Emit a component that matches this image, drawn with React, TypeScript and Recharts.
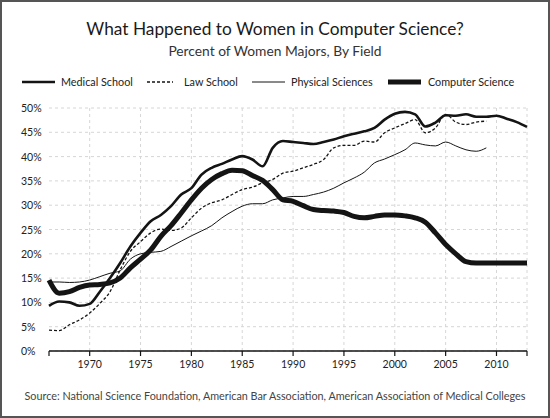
import { LineChart, Line, XAxis, YAxis, CartesianGrid, ReferenceLine } from 'recharts';

const years = [
  1966, 1967, 1968, 1969, 1970, 1971, 1972, 1973, 1974, 1975, 1976, 1977, 1978, 1979,
  1980, 1981, 1982, 1983, 1984, 1985, 1986, 1987, 1988, 1989, 1990, 1991, 1992, 1993,
  1994, 1995, 1996, 1997, 1998, 1999, 2000, 2001, 2002, 2003, 2004, 2005, 2006, 2007,
  2008, 2009, 2010, 2011, 2012, 2013,
];

const medical = [
  9.3, 10.2, 10.0, 9.3, 9.7, 12.2, 15.0, 18.1, 21.5, 24.3, 26.7, 28.0, 29.8, 32.2,
  33.5, 36.3, 37.7, 38.5, 39.4, 40.1, 39.4, 38.0, 41.8, 43.2, 43.0, 42.8, 42.6, 43.0,
  43.5, 44.2, 44.7, 45.2, 45.9, 47.6, 48.8, 49.2, 48.7, 46.2, 47.0, 48.5, 48.4, 48.7,
  48.2, 48.2, 48.4, 47.8, 47.1, 46.1,
];

const law = [
  4.3, 4.2, 5.4, 6.4, 7.8, 9.8, 12.2, 16.7, 20.5, 22.5, 24.3, 25.1, 24.8, 25.3,
  27.4, 29.4, 30.5, 31.1, 32.2, 33.2, 33.7, 34.6, 35.3, 36.6, 37.0, 37.7, 38.4, 39.4,
  41.8, 42.3, 42.3, 43.2, 43.0, 44.9, 45.9, 46.8, 47.6, 44.9, 45.9, 48.7, 47.1, 46.6,
  47.1, 47.3, null, null, null, null,
];

const physical = [
  14.2, 14.2, 14.1, 14.2, 14.6, 15.3, 16.0, 16.5, 18.9, 20.0, 20.3, 20.5, 21.5, 22.6,
  23.7, 24.7, 25.8, 27.4, 28.7, 29.8, 30.3, 30.3, 31.1, 31.5, 31.8, 31.8, 32.2, 32.7,
  33.5, 34.6, 35.6, 36.8, 38.7, 39.5, 40.4, 41.4, 42.8, 42.4, 42.2, 43.0, 42.2, 41.4,
  41.1, 41.8, null, null, null, null,
];

const computer = [
  14.6, 11.9, 12.2, 13.1, 13.6, 13.7, 14.0, 15.0, 17.1, 18.9, 20.8, 23.6, 25.8, 28.4,
  31.1, 33.5, 35.3, 36.5, 37.2, 37.1, 36.1, 35.1, 33.2, 31.1, 30.8, 29.9, 29.1, 28.9,
  28.8, 28.5, 27.7, 27.4, 27.7, 28.0, 28.0, 27.8, 27.4, 26.5, 24.3, 21.9, 20.0, 18.4,
  18.1, 18.1, 18.1, 18.1, 18.1, 18.1,
];

const xTicks = [1966, 1970, 1975, 1980, 1985, 1990, 1995, 2000, 2005, 2010, 2013];
const gridYears = [1970, 1975, 1980, 1985, 1990, 1995, 2000, 2005, 2010, 2013];
const yTicks = [0, 5, 10, 15, 20, 25, 30, 35, 40, 45, 50];

const data = years.map((year, i) => ({
  year,
  medical: medical[i],
  law: law[i],
  physical: physical[i],
  computer: computer[i],
}));

const FONT = 'Lato, "Open Sans", sans-serif';
const INK = '#141414';

// legend swatch left / length / text left, matched to the reference
const legendItems = [
  { label: 'Medical School', width: 2.6, dash: undefined, left: 22, len: 33, textLeft: 61 },
  { label: 'Law School', width: 1.3, dash: '3 2', left: 147, len: 26, textLeft: 184 },
  { label: 'Physical Sciences', width: 1, dash: undefined, left: 252, len: 33, textLeft: 291 },
  { label: 'Computer Science', width: 5, dash: undefined, left: 388, len: 33, textLeft: 428 },
];

const YTick = (props: any) => {
  const { y, payload } = props;
  return (
    <text x={21} y={y} dy={4} textAnchor="start" fontSize={10.5} fill="#222" fontFamily={FONT}>
      {payload.value}%
    </text>
  );
};

const XTick = (props: any) => {
  const { x, y, payload } = props;
  if (payload.value % 5 !== 0) return null;
  return (
    <text x={x} y={y} dy={10} textAnchor="middle" fontSize={10.5} fill="#222" fontFamily={FONT}>
      {payload.value}
    </text>
  );
};

const App = () => (
  <div
    style={{
      position: 'absolute',
      left: 0,
      top: 0,
      width: 550,
      height: 418,
      background: '#fff',
      fontFamily: FONT,
    }}
  >
    <div
      style={{
        position: 'absolute',
        top: 18,
        left: 0,
        width: 550,
        textAlign: 'center',
        fontSize: 17.3,
        color: '#1a1a1a',
      }}
    >
      What Happened to Women in Computer Science?
    </div>
    <div
      style={{
        position: 'absolute',
        top: 42,
        left: 0,
        width: 550,
        textAlign: 'center',
        fontSize: 13.8,
        color: '#333',
      }}
    >
      Percent of Women Majors, By Field
    </div>
    {legendItems.map((item) => (
      <div key={item.label}>
        <svg
          width={item.len}
          height={8}
          style={{ position: 'absolute', left: item.left, top: 78 }}
        >
          <line
            x1={0}
            x2={item.len}
            y1={4}
            y2={4}
            stroke={INK}
            strokeWidth={item.width}
            strokeDasharray={item.dash}
          />
        </svg>
        <span
          style={{
            position: 'absolute',
            left: item.textLeft,
            top: 75,
            fontSize: 10.8,
            color: '#222',
            whiteSpace: 'nowrap',
          }}
        >
          {item.label}
        </span>
      </div>
    ))}
    <LineChart
      width={550}
      height={418}
      data={data}
      margin={{ top: 108, right: 23, bottom: 37, left: 22 }}
    >
      <CartesianGrid vertical={false} stroke="#d6d6d6" strokeDasharray="3 3" />
      {gridYears.map((yr) => (
        <ReferenceLine key={yr} x={yr} stroke="#d6d6d6" strokeDasharray="3 3" />
      ))}
      <XAxis
        dataKey="year"
        type="number"
        domain={[1966, 2013]}
        ticks={xTicks}
        interval={0}
        tick={<XTick />}
        tickSize={5}
        stroke={INK}
        axisLine={{ stroke: INK, strokeWidth: 1.5 }}
        tickLine={{ stroke: INK, strokeWidth: 1.2 }}
        height={30}
      />
      <YAxis
        type="number"
        domain={[0, 50]}
        ticks={yTicks}
        interval={0}
        tick={<YTick />}
        axisLine={false}
        tickLine={false}
        width={27}
      />
      <Line
        type="monotone"
        dataKey="physical"
        stroke={INK}
        strokeWidth={1}
        dot={false}
        isAnimationActive={false}
      />
      <Line
        type="monotone"
        dataKey="law"
        stroke={INK}
        strokeWidth={1.3}
        strokeDasharray="3 2"
        dot={false}
        isAnimationActive={false}
      />
      <Line
        type="monotone"
        dataKey="medical"
        stroke={INK}
        strokeWidth={2.6}
        dot={false}
        isAnimationActive={false}
      />
      <Line
        type="monotone"
        dataKey="computer"
        stroke={INK}
        strokeWidth={5}
        dot={false}
        isAnimationActive={false}
      />
    </LineChart>
    <div
      style={{
        position: 'absolute',
        top: 389,
        left: 0,
        width: 550,
        textAlign: 'center',
        fontSize: 10.8,
        color: '#444',
      }}
    >
      Source: National Science Foundation, American Bar Association, American Association of Medical Colleges
    </div>
    <div
      style={{
        position: 'absolute',
        left: 0,
        top: 0,
        width: 550,
        height: 418,
        boxSizing: 'border-box',
        border: '2px solid #555',
        pointerEvents: 'none',
      }}
    />
  </div>
);

export default App;
